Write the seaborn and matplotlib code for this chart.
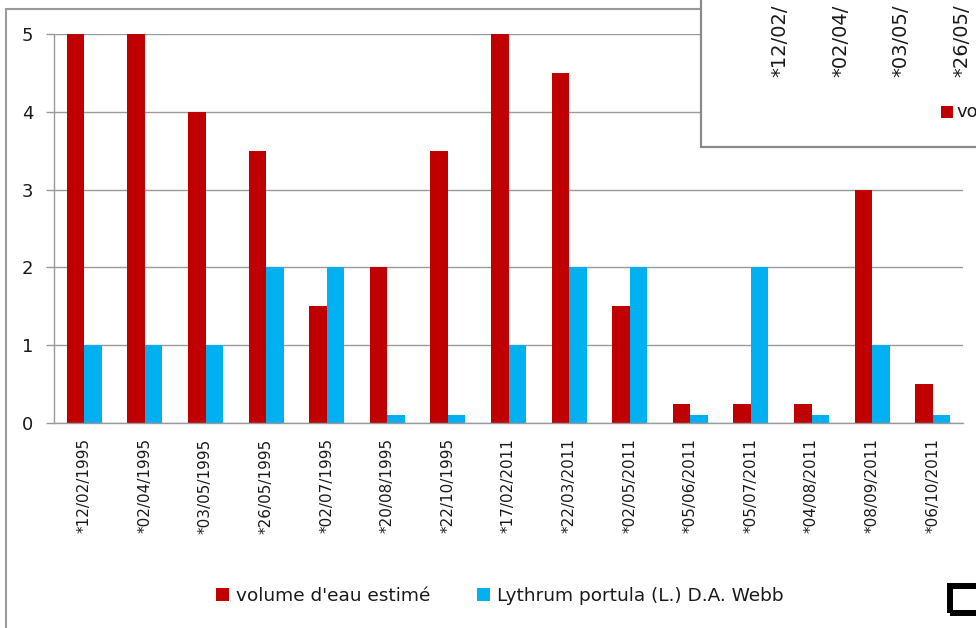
import matplotlib
matplotlib.use("Agg")
import matplotlib.pyplot as plt
import seaborn as sns
import pandas as pd
from matplotlib.patches import Rectangle, Patch
from matplotlib.ticker import FixedLocator

dates = ["*12/02/1995", "*02/04/1995", "*03/05/1995", "*26/05/1995", "*02/07/1995",
         "*20/08/1995", "*22/10/1995", "*17/02/2011", "*22/03/2011", "*02/05/2011",
         "*05/06/2011", "*05/07/2011", "*04/08/2011", "*08/09/2011", "*06/10/2011"]
volume = [5, 5, 4, 3.5, 1.5, 2, 3.5, 5, 4.5, 1.5, 0.25, 0.25, 0.25, 3, 0.5]
lythrum = [1, 1, 1, 2, 2, 0.1, 0.1, 1, 2, 2, 0.1, 2, 0.1, 1, 0.1]
series_names = ["volume d'eau estimé", "Lythrum portula (L.) D.A. Webb"]
yticks = [0, 1, 2, 3, 4, 5]
# visible (truncated) texts of the overlapping second chart
inset_labels = ["*12/02/", "*02/04/", "*03/05/", "*26/05/"]
inset_legend = "vo"

RED = "#C00000"
BLUE = "#00B0F0"
GRAY = "#9a9a9a"
TXT = "#1a1a1a"

df = pd.concat([
    pd.DataFrame({"date": dates, "value": volume, "series": series_names[0]}),
    pd.DataFrame({"date": dates, "value": lythrum, "series": series_names[1]}),
])

sns.set_style("white")
plt.rcParams["font.family"] = ["DejaVu Sans"]

W, H = 976, 628
fig = plt.figure(figsize=(W / 100, H / 100), dpi=100)

def fx(x):
    return x / W

def fy(y):
    return 1 - y / H

ax = fig.add_axes([fx(54), fy(423), fx(963) - fx(54), fy(34) - fy(423)])
sns.barplot(data=df, x="date", y="value", hue="series", order=dates,
            hue_order=series_names, palette=[RED, BLUE], saturation=1,
            width=0.575, gap=0, legend=False, ax=ax, linewidth=0)

ax.set_xlim(-0.5, len(dates) - 0.5)
ax.set_ylim(0, 5)
ax.set_yticks(yticks)
ax.set_yticklabels([str(v) for v in yticks], fontsize=13, color=TXT)
ax.set_xticks(range(len(dates)))
ax.set_xticklabels(dates, rotation=90, fontsize=11, color=TXT)
ax.xaxis.set_minor_locator(FixedLocator([i - 0.5 for i in range(len(dates) + 1)]))
ax.tick_params(axis="x", which="major", length=0, pad=11)
ax.tick_params(axis="x", which="minor", length=5, width=1, color=GRAY, direction="out")
ax.tick_params(axis="y", which="major", length=6, width=1, color=GRAY, direction="out", pad=9, left=True)
ax.set_xlabel("")
ax.set_ylabel("")
ax.grid(axis="y", color=GRAY, linewidth=1)
ax.set_axisbelow(True)
for s in ["top", "right"]:
    ax.spines[s].set_visible(False)
for s in ["left", "bottom"]:
    ax.spines[s].set_color(GRAY)
    ax.spines[s].set_linewidth(1)

handles = [Patch(facecolor=RED, edgecolor="none"), Patch(facecolor=BLUE, edgecolor="none")]
fig.legend(handles, series_names, loc="center", bbox_to_anchor=(fx(500), fy(596)),
           ncol=2, frameon=False, fontsize=13.3, handlelength=0.7, handleheight=0.7,
           handletextpad=0.4, columnspacing=2.5, labelcolor=TXT)

# outer chart border
fig.patches.append(Rectangle((fx(6), fy(700)), fx(1200), fy(9) - fy(700),
                             transform=fig.transFigure, facecolor="none",
                             edgecolor=GRAY, linewidth=1.5, zorder=2))

# overlapping second chart (inset) at top right
fig.patches.append(Rectangle((fx(701), fy(147)), fx(400), fy(-50) - fy(147),
                             transform=fig.transFigure, facecolor="white",
                             edgecolor="#8a8a8a", linewidth=1.6, zorder=5))
for i, lab in enumerate(inset_labels):
    fig.text(fx(780 + 60.5 * i), fy(77), lab, rotation=90, ha="center", va="bottom",
             fontsize=14, color=TXT, zorder=6)
fig.patches.append(Rectangle((fx(941), fy(118)), fx(12), fy(106) - fy(118),
                             transform=fig.transFigure, facecolor=RED,
                             edgecolor="none", zorder=6))
fig.text(fx(956), fy(112), inset_legend, ha="left", va="center",
         fontsize=13, color=TXT, zorder=6)

# black selection square bottom right
fig.patches.append(Rectangle((fx(950), fy(613)), fx(60), fy(586) - fy(613),
                             transform=fig.transFigure, facecolor="none",
                             edgecolor="black", linewidth=4.3, zorder=7))

fig.savefig("out.png", dpi=100)
